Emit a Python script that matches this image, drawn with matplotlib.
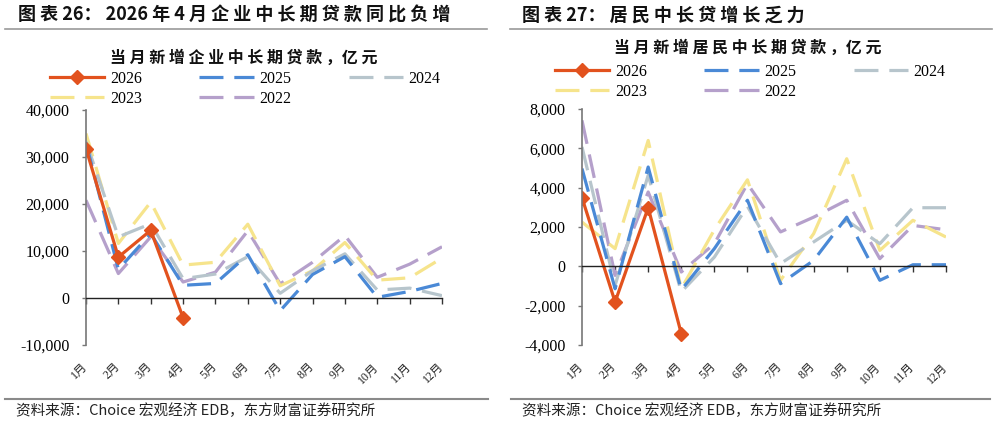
# 企业 / 居民 中长期贷款 当月新增 对比图
import numpy as np
import matplotlib.pyplot as plt
from matplotlib.lines import Line2D

plt.rcParams['font.family'] = ['Noto Sans CJK SC', 'DejaVu Sans']
plt.rcParams['axes.unicode_minus'] = False

months = ['1月', '2月', '3月', '4月', '5月', '6月', '7月', '8月', '9月', '10月', '11月', '12月']
years = ['2026', '2025', '2024', '2023', '2022']

# 当月新增企业中长期贷款，亿元
corp_2026 = [31800, 8700, 14400, -4200]
corp_2025 = [33000, 6100, 13700, 2700, 3100, 9200, -2700, 5000, 8800, 150, 1400, 3100]
corp_2024 = [33300, 13000, 15800, 4100, 5100, 8800, 1000, 5800, 9400, 1700, 2100, 500]
corp_2023 = [35000, 11600, 20400, 7000, 7600, 15700, 2600, 5800, 11800, 3800, 4300, 8500]
corp_2022 = [20800, 5200, 13000, 3400, 5500, 14300, 3000, 7600, 13300, 4400, 7200, 10900]

# 当月新增居民中长期贷款，亿元
hh_2026 = [3490, -1810, 2980, -3420]
hh_2025 = [4970, -1140, 5050, -1200, 900, 3360, -880, 300, 2500, -710, 80, 80]
hh_2024 = [6070, -970, 4630, -1300, 470, 3050, 140, 1240, 2340, 1150, 2980, 2980]
hh_2023 = [2250, 900, 6400, -1140, 1860, 4400, -710, 1660, 5470, 810, 2340, 1490]
hh_2022 = [7420, -460, 3780, -290, 1150, 4200, 1750, 2500, 3360, 390, 2080, 1860]

colors = {'2026': '#E2521E', '2025': '#4A89D6', '2024': '#B7C5CC',
          '2023': '#F6E48C', '2022': '#B5A0CB'}
dash = (7.5, 3.4)
lw = 2.3

W, H = 997, 422
fig = plt.figure(figsize=(W / 100, H / 100), dpi=100)


def px(x0, y0, x1, y1):
    # pixel box -> figure fraction rect
    return [x0 / W, 1 - y1 / H, (x1 - x0) / W, (y1 - y0) / H]


def spaced(s):
    return ' '.join(s)


def draw_panel(ax, series, ylim, yticks):
    x = np.arange(len(months))
    for yr in ['2022', '2023', '2024', '2025']:
        ax.plot(x, series[yr], color=colors[yr], lw=lw, dashes=dash,
                solid_capstyle='butt', dash_capstyle='butt')
    v = series['2026']
    ax.plot(x[:len(v)], v, color=colors['2026'], lw=lw, marker='D', ms=7.5)
    ax.set_xlim(0, 11)
    ax.set_ylim(*ylim)
    ax.set_yticks(yticks)
    ax.set_yticklabels([f'{t:,}' for t in yticks], family='Liberation Serif', fontsize=11.5)
    ax.set_xticks(x)
    ax.tick_params(axis='x', labelbottom=False, length=4, width=1, color='#333333', direction='out')
    ax.tick_params(axis='y', length=3, width=1, color='#777777', pad=9)
    for s in ['top', 'right']:
        ax.spines[s].set_visible(False)
    ax.spines['left'].set_color('#777777')
    ax.spines['left'].set_linewidth(1.2)
    ax.spines['bottom'].set_position(('data', 0))
    ax.spines['bottom'].set_color('#222222')
    ax.spines['bottom'].set_linewidth(1)
    ax.patch.set_alpha(0)
    for i, m in enumerate(months):
        ax.text(i - 0.02, -0.085, m, transform=ax.get_xaxis_transform(),
                rotation=45, rotation_mode='anchor', ha='right', va='center',
                family=['Liberation Serif', 'Noto Sans CJK SC'], fontsize=8.5, color='#222222')


def legend(x0, y0):
    order = ['2026', '2023', '2025', '2022', '2024']
    handles = []
    for yr in order:
        if yr == '2026':
            handles.append(Line2D([], [], color=colors[yr], lw=lw, marker='D', ms=7.5))
        else:
            handles.append(Line2D([], [], color=colors[yr], lw=lw, dashes=dash))
    fig.legend(handles, order, ncol=3, loc='upper left', bbox_to_anchor=(x0 / W, 1 - y0 / H),
               frameon=False, borderpad=0, borderaxespad=0, handlelength=3.4,
               handletextpad=0.35, columnspacing=3.6, labelspacing=0.25,
               prop={'family': 'Liberation Serif', 'size': 11.5})


ax1 = fig.add_axes(px(86, 110, 442, 345))
draw_panel(ax1, {'2026': corp_2026, '2025': corp_2025, '2024': corp_2024,
                 '2023': corp_2023, '2022': corp_2022},
           (-10000, 40000), [-10000, 0, 10000, 20000, 30000, 40000])

ax2 = fig.add_axes(px(582, 109, 946, 345))
draw_panel(ax2, {'2026': hh_2026, '2025': hh_2025, '2024': hh_2024,
                 '2023': hh_2023, '2022': hh_2022},
           (-4000, 8000), [-4000, -2000, 0, 2000, 4000, 6000, 8000])

# headers
fig.text(18 / W, 1 - 15 / H, '图 表 26： 2026 年 4 月 ' + spaced('企业中长期贷款同比负增'),
         fontsize=13, fontweight='bold', va='center', ha='left', color='#111111')
fig.text(522 / W, 1 - 15 / H, '图 表 27： ' + spaced('居民中长贷增长乏力'),
         fontsize=13, fontweight='bold', va='center', ha='left', color='#111111')

fig.text(244 / W, 1 - 58 / H, spaced('当月新增企业中长期贷款，') + '亿 元',
         fontsize=11.5, fontweight='bold', va='center', ha='center', color='#111111')
fig.text(748 / W, 1 - 48 / H, spaced('当月新增居民中长期贷款，') + '亿 元',
         fontsize=11.5, fontweight='bold', va='center', ha='center', color='#111111')

legend(50, 71)
legend(555, 64)

# rules
for xa, xb in [(5, 487), (510, 992)]:
    fig.add_artist(Line2D([xa / W, xb / W], [1 - 29 / H] * 2, color='#9a9a9a', lw=1.2))
for xa, xb in [(5, 488), (511, 990)]:
    fig.add_artist(Line2D([xa / W, xb / W], [1 - 399 / H] * 2, color='#8a8a8a', lw=1.5))

src = '资料来源：Choice 宏观经济 EDB，东方财富证券研究所'
fig.text(16 / W, 1 - 411 / H, src, fontsize=10.5, va='center', ha='left', color='#222222')
fig.text(522 / W, 1 - 411 / H, src, fontsize=10.5, va='center', ha='left', color='#222222')

fig.savefig('out.png', dpi=100)
